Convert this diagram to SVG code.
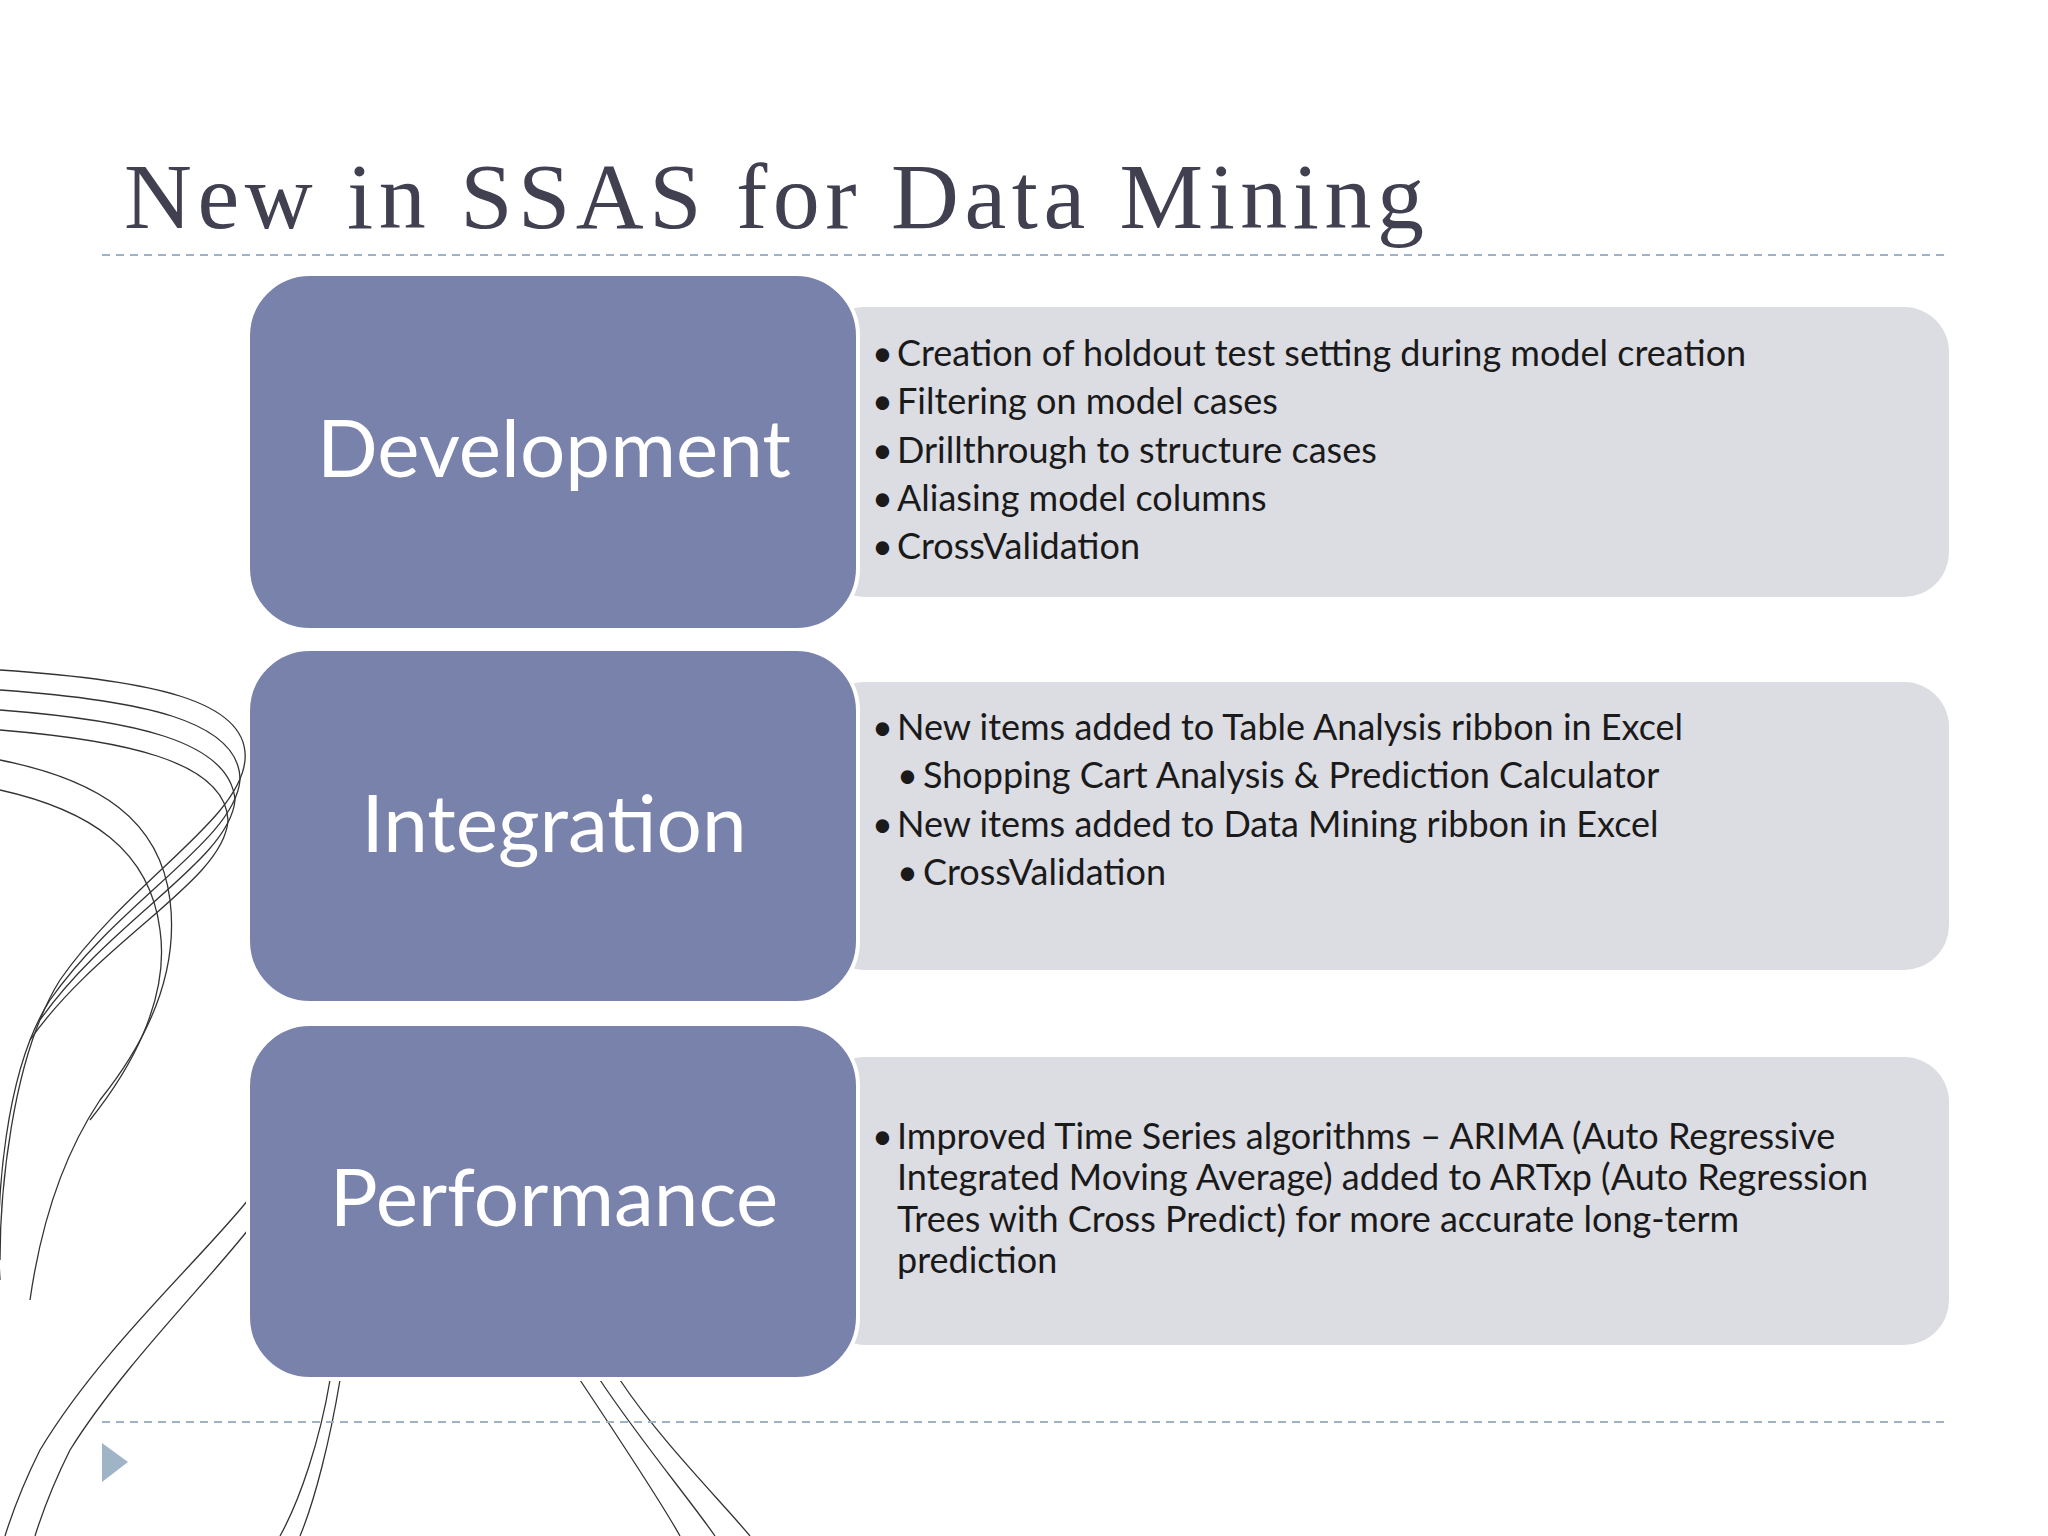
<svg xmlns="http://www.w3.org/2000/svg" width="2048" height="1536" viewBox="0 0 2048 1536">
<style>
.l{fill:#7882ab;stroke:#fff;stroke-width:4}
.r{fill:#dcdce3}
.h{font-family:Lato,"Open Sans",sans-serif;font-size:80px;fill:#fff;text-anchor:middle}
.b{font-family:Lato,"Open Sans",sans-serif;font-size:36px;fill:#1a1a1a}
.d{stroke:#9fb1c4;stroke-width:2;stroke-dasharray:8 6}
.c{fill:none;stroke:#333;stroke-width:1.3}
</style>
<rect width="2048" height="1536" fill="#fff"/>
<g id="curves">
<path class="c" d="M0 670 C150 680 250 700 245 760 C240 820 130 880 60 980 C10 1060 0 1200 0 1260"/>
<path class="c" d="M0 690 C140 700 240 720 240 780 C235 840 120 900 50 1000 C5 1070 -5 1200 0 1280"/>
<path class="c" d="M0 710 C130 720 230 740 235 800 C230 860 110 920 40 1020"/>
<path class="c" d="M0 730 C120 740 225 760 228 820 C225 880 100 940 30 1040"/>
<path class="c" d="M0 760 C100 780 160 820 170 900 C180 980 140 1050 100 1100 C60 1160 40 1230 30 1300"/>
<path class="c" d="M0 790 C90 810 150 850 160 930 C170 1000 130 1070 90 1120"/>
<path class="c" d="M248 1200 C200 1260 100 1350 40 1450 C20 1490 10 1520 5 1536"/>
<path class="c" d="M248 1230 C200 1290 120 1370 70 1450 C50 1490 40 1520 35 1536"/>
<path class="c" d="M330 1380 C320 1440 300 1500 280 1536"/>
<path class="c" d="M340 1380 C330 1440 315 1500 300 1536"/>
<path class="c" d="M580 1380 C620 1440 660 1500 680 1536"/>
<path class="c" d="M600 1380 C640 1440 690 1500 715 1536"/>
<path class="c" d="M620 1380 C660 1440 720 1500 750 1536"/>
</g>
<text x="124" y="228" font-family="Liberation Serif,serif" font-size="94" fill="#404050" textLength="1300" lengthAdjust="spacing">New in SSAS for Data Mining</text>
<line class="d" x1="102" y1="255" x2="1946" y2="255"/>
<line class="d" x1="102" y1="1422" x2="1946" y2="1422"/>
<polygon points="102,1443 128,1462 102,1482" fill="#a0b4c8"/>
<g id="development">
<rect class="r" x="820" y="307" width="1129" height="290" rx="45"/>
<rect class="l" x="248" y="274" width="610" height="356" rx="62"/>
<text class="h" x="554" y="477">Development</text>
<text class="b" x="872" y="366">•</text><text class="b" x="897" y="366">Creation of holdout test setting during model creation</text>
<text class="b" x="872" y="414">•</text><text class="b" x="897" y="414">Filtering on model cases</text>
<text class="b" x="872" y="463">•</text><text class="b" x="897" y="463">Drillthrough to structure cases</text>
<text class="b" x="872" y="511">•</text><text class="b" x="897" y="511">Aliasing model columns</text>
<text class="b" x="872" y="559">•</text><text class="b" x="897" y="559">CrossValidation</text>
</g>
<g id="integration">
<rect class="r" x="820" y="682" width="1129" height="288" rx="45"/>
<rect class="l" x="248" y="649" width="610" height="354" rx="62"/>
<text class="h" x="554" y="852">Integration</text>
<text class="b" x="872" y="740">•</text><text class="b" x="897" y="740">New items added to Table Analysis ribbon in Excel</text>
<text class="b" x="897" y="788">•</text><text class="b" x="923" y="788">Shopping Cart Analysis &amp; Prediction Calculator</text>
<text class="b" x="872" y="837">•</text><text class="b" x="897" y="837">New items added to Data Mining ribbon in Excel</text>
<text class="b" x="897" y="885">•</text><text class="b" x="923" y="885">CrossValidation</text>
</g>
<g id="performance">
<rect class="r" x="820" y="1057" width="1129" height="288" rx="45"/>
<rect class="l" x="248" y="1024" width="610" height="355" rx="62"/>
<text class="h" x="554" y="1226">Performance</text>
<text class="b" x="872" y="1149">•</text><text class="b" x="897" y="1149">Improved Time Series algorithms – ARIMA (Auto Regressive</text>
<text class="b" x="897" y="1190">Integrated Moving Average) added to ARTxp (Auto Regression</text>
<text class="b" x="897" y="1232">Trees with Cross Predict) for more accurate long-term</text>
<text class="b" x="897" y="1273">prediction</text>
</g>
<g id="connectors"/>
</svg>
